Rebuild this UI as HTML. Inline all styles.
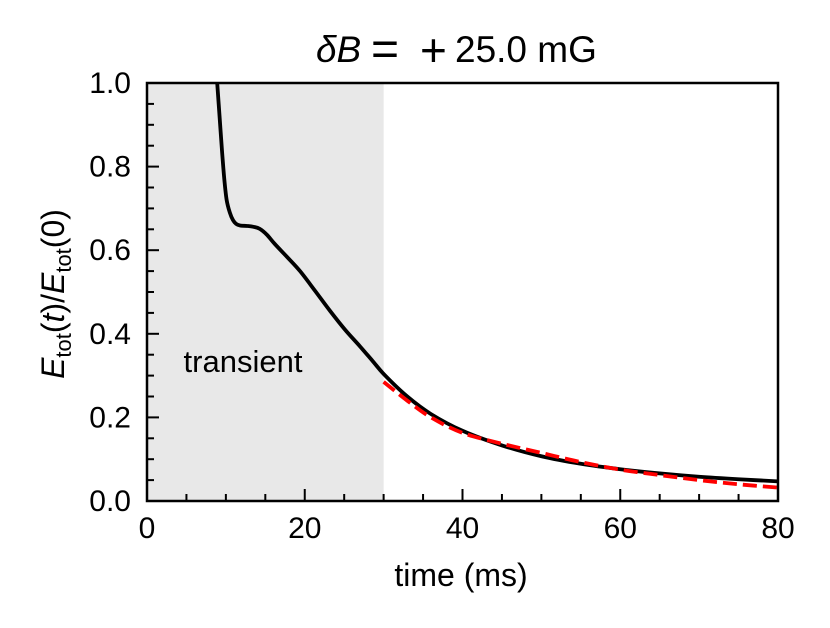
<!DOCTYPE html>
<html><head><meta charset="utf-8"><style>
body{margin:0;background:#fff}
svg text{font-family:"Liberation Sans",Arial,sans-serif;fill:#000}
</style></head><body>
<svg id="c" width="830" height="623" viewBox="0 0 830 623" xmlns="http://www.w3.org/2000/svg">
<g font-size="37">
<text x="316" y="62" font-style="italic">δB</text>
<text x="371" y="65" font-size="48">=</text>
<text x="420" y="66" font-size="46">+</text>
<text x="455" y="62">25.0 mG</text>
</g>
<text x="461" y="586" font-size="32" text-anchor="middle">time (ms)</text>
<text transform="translate(64,294) rotate(-90)" font-size="32" text-anchor="middle"><tspan font-style="italic">E</tspan><tspan font-size="22" dy="7">tot</tspan><tspan dy="-7">(</tspan><tspan font-style="italic">t</tspan>)/<tspan font-style="italic">E</tspan><tspan font-size="22" dy="7">tot</tspan><tspan dy="-7">(0)</tspan></text>
<g id="g"></g>
</svg>
<script>
const xTicks=[0,20,40,60,80];
const yTicks=[0.0,0.2,0.4,0.6,0.8,1.0];
const blackT=[8.9,9.2,9.5,9.8,10.1,10.5,10.9,11.3,11.8,12.7,13.5,14.3,15.2,16.2,17.8,19.4,21.3,23.2,25.1,27,28.6,30.2,33,36,40,45,50,55,60,65,70,75,80];
const blackV=[1.0,0.92,0.84,0.77,0.72,0.69,0.672,0.663,0.659,0.658,0.656,0.651,0.637,0.615,0.583,0.55,0.503,0.455,0.41,0.37,0.335,0.30,0.25,0.208,0.168,0.133,0.107,0.089,0.076,0.066,0.058,0.052,0.047];
const fitT=[30,33,36,40,45,50,55,60,65,70,75,80];
const fitV=[0.285,0.24,0.2,0.163,0.137,0.115,0.093,0.075,0.062,0.05,0.04,0.032];
const shade=[0,30];
const X0=147,X1=778,Y0=501,Y1=83;
const sx=v=>X0+(v-0)/(80-0)*(X1-X0);
const sy=v=>Y0-(v-0)/(1-0)*(Y0-Y1);
const g=document.getElementById('g');const NS='http://www.w3.org/2000/svg';
function mk(t,a){const e=document.createElementNS(NS,t);for(const k in a)e.setAttribute(k,a[k]);g.appendChild(e);return e;}
function smooth(xs,ys){let p=xs.map((t,i)=>[sx(t),sy(ys[i])]);let d='M'+p[0][0]+','+p[0][1];
for(let i=0;i<p.length-1;i++){const a=p[Math.max(0,i-1)],b=p[i],c=p[i+1],e=p[Math.min(p.length-1,i+2)];
d+=' C'+(b[0]+(c[0]-a[0])/6)+','+(b[1]+(c[1]-a[1])/6)+' '+(c[0]-(e[0]-b[0])/6)+','+(c[1]-(e[1]-b[1])/6)+' '+c[0]+','+c[1];}return d;}
let r=mk('rect',{x:sx(shade[0]),y:Y1,width:sx(shade[1])-sx(shade[0]),height:Y0-Y1,fill:'#e8e8e8'});


let tt=mk('text',{x:243,y:372,'font-size':31,'text-anchor':'middle'});tt.textContent='transient';


for(let v=0;v<=80;v+=5){const maj=v%20===0;let l=mk('line',{x1:sx(v),x2:sx(v),y1:Y0,y2:Y0-(maj?12:7),stroke:'#000','stroke-width':2});

}
for(let i=0;i<=20;i++){const v=i*0.05;const maj=i%4===0;let l=mk('line',{x1:X0,x2:X0+(maj?12:7),y1:sy(v),y2:sy(v),stroke:'#000','stroke-width':2});

}
xTicks.forEach(v=>{let t=mk('text',{x:sx(v),y:Y0+37,'font-size':30,'text-anchor':'middle'});t.textContent=v;

});
yTicks.forEach(v=>{let t=mk('text',{x:X0-16,y:sy(v)+10,'font-size':30,'text-anchor':'end'});t.textContent=v.toFixed(1);

});
let cp=mk('clipPath',{id:'cl'});const cr=document.createElementNS(NS,'rect');cr.setAttribute('x',X0);cr.setAttribute('y',Y1);cr.setAttribute('width',X1-X0);cr.setAttribute('height',Y0-Y1);cp.appendChild(cr);
let b=mk('path',{d:smooth(blackT,blackV),fill:'none',stroke:'#000','stroke-width':3.8,'stroke-linejoin':'round','clip-path':'url(#cl)'});


let f=mk('path',{d:smooth(fitT,fitV),fill:'none',stroke:'#f00','stroke-width':3.8,'stroke-dasharray':'14,6'});


let fr=mk('rect',{x:X0,y:Y1,width:X1-X0,height:Y0-Y1,fill:'none',stroke:'#000','stroke-width':2.5});


</script>
</body></html>
